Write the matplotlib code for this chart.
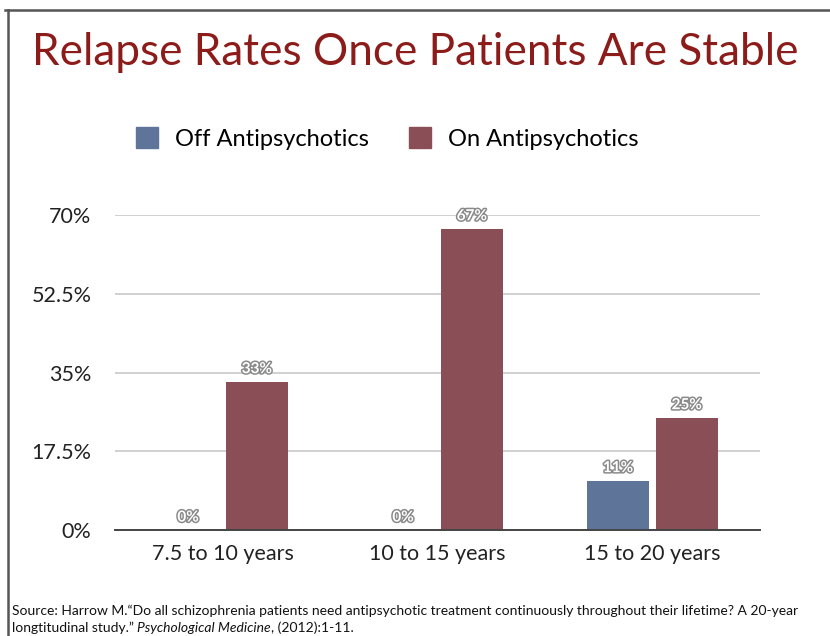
import matplotlib
matplotlib.use("Agg")
import matplotlib.pyplot as plt
import matplotlib.patheffects as pe
from matplotlib.lines import Line2D
import numpy as np

categories = ["7.5 to 10 years", "10 to 15 years", "15 to 20 years"]
off_values = [0, 0, 11]
on_values = [33, 67, 25]
series_names = ["Off Antipsychotics", "On Antipsychotics"]
yticks = [0, 17.5, 35, 52.5, 70]
ytick_labels = ["0%", "17.5%", "35%", "52.5%", "70%"]

plt.rcParams['font.family'] = ['Lato', 'DejaVu Sans']

OFF_COLOR = "#5e7499"
ON_COLOR = "#8a4f56"


def main():
    fig = plt.figure(figsize=(8.3, 6.36), dpi=100)
    ax = fig.add_axes([0.1386, 0.1667, 0.777, 0.495])

    x = np.arange(len(categories))
    w = 0.29
    off_bars = ax.bar(x - 0.16, off_values, w, color=OFF_COLOR, zorder=3)
    on_bars = ax.bar(x + 0.16, on_values, w, color=ON_COLOR, zorder=3)

    outline = [pe.Stroke(linewidth=2.2, foreground="#8a8a8a"), pe.Normal()]
    for bars, vals in ((off_bars, off_values), (on_bars, on_values)):
        for b, v in zip(bars, vals):
            ax.text(b.get_x() + b.get_width() / 2, v + 1.2, f"{v}%",
                    ha="center", va="bottom", fontsize=11, fontweight="bold",
                    color="white", path_effects=outline, zorder=4)

    ax.set_xlim(-0.5, 2.5)
    ax.set_ylim(0, 70)
    ax.set_yticks(yticks)
    ax.set_yticklabels(ytick_labels, fontsize=15.5, color="#222222")
    ax.set_xticks(x)
    ax.set_xticklabels(categories, fontsize=15.5, color="#222222")
    ax.tick_params(axis="both", length=0)
    ax.tick_params(axis="y", pad=17)
    ax.tick_params(axis="x", pad=10)
    ax.yaxis.grid(True, color="#c8c8c8", linewidth=1.2, zorder=0)
    ax.set_axisbelow(True)
    for s in ("top", "right", "left"):
        ax.spines[s].set_visible(False)
    ax.spines["bottom"].set_color("#444444")
    ax.spines["bottom"].set_linewidth(1.4)
    ax.spines["bottom"].set_zorder(5)

    # title
    fig.text(0.038, 0.917, "Relapse Rates Once Patients Are Stable",
             fontsize=31.8, color="#8c1c1a", ha="left", va="center")

    # legend
    handles = [plt.Rectangle((0, 0), 1, 1, color=OFF_COLOR),
               plt.Rectangle((0, 0), 1, 1, color=ON_COLOR)]
    fig.legend(handles, series_names, loc="center left",
               bbox_to_anchor=(0.138, 0.782), ncol=2, frameon=False,
               fontsize=17, handlelength=0.95, handleheight=0.95,
               handletextpad=0.7, columnspacing=1.7)

    # source
    t1 = fig.text(0.014, 0.030, "Source: Harrow M.\u201cDo all schizophrenia patients need antipsychotic treatment continuously throughout their lifetime? A 20-year",
                  fontsize=10, color="#111111", ha="left", va="bottom")
    t2 = fig.text(0.014, 0.003, "longtitudinal study.\u201d ",
                  fontsize=10, color="#111111", ha="left", va="bottom")
    t3 = ax.annotate("Psychological Medicine", xy=(1, 0), xycoords=t2,
                     fontsize=10, style="italic", color="#111111",
                     ha="left", va="bottom", annotation_clip=False)
    ax.annotate(", (2012):1-11.", xy=(1, 0), xycoords=t3,
                fontsize=10, color="#111111", ha="left", va="bottom",
                annotation_clip=False)

    # slide frame
    fig.add_artist(Line2D([5 / 830, 1], [1 - 10 / 636, 1 - 10 / 636],
                          transform=fig.transFigure, color="#555555", linewidth=1.8))
    fig.add_artist(Line2D([8 / 830, 8 / 830], [1 - 10 / 636, 0],
                          transform=fig.transFigure, color="#555555", linewidth=1.8))

    fig.savefig("out.png", dpi=100)


if __name__ == "__main__":
    main()
